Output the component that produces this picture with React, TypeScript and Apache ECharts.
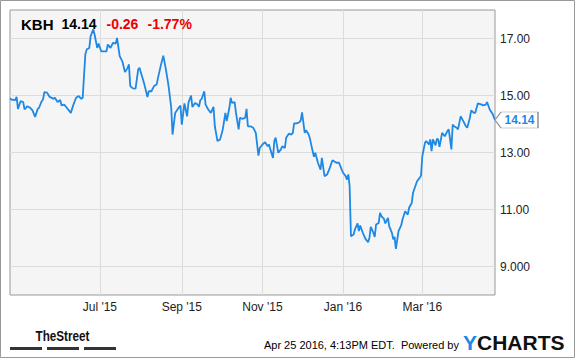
import React, { useEffect, useRef } from 'react';
import * as echarts from 'echarts';

const ticker = 'KBH';
const lastPriceText = '14.14';
const changeText = '-0.26';
const changePctText = '-1.77%';
const startDate = '2015-04-24';
const endDate = '2016-04-25';

const monthTicks = ['2015-07-01', '2015-09-01', '2015-11-01', '2016-01-01', '2016-03-01'];
const monthTickLabels = ["Jul '15", "Sep '15", "Nov '15", "Jan '16", "Mar '16"];

const yTicks = [9, 11, 13, 15, 17];
const yTickLabels = ['9.000', '11.00', '13.00', '15.00', '17.00'];

// day offsets from startDate of each reading
const dayOffsets = [
  0, 1, 4, 5, 6, 8, 10, 11, 13, 15, 17, 19, 21, 22, 24, 25, 26, 28, 30, 33,
  34, 36, 38, 39, 41, 43, 46, 48, 50, 52, 54, 55, 57, 58, 60, 61, 63, 64, 66, 67,
  69, 71, 73, 74, 76, 78, 80, 81, 83, 85, 87, 89, 90, 91, 93, 95, 97, 98, 101, 102,
  104, 105, 107, 109, 111, 112, 114, 116, 118, 120, 122, 123, 125, 127, 129, 130, 132, 134, 135, 137,
  138, 140, 142, 143, 144, 145, 147, 148, 150, 152, 154, 155, 157, 159, 161, 163, 164, 166, 167, 168,
  170, 171, 173, 174, 176, 178, 179, 180, 182, 184, 186, 188, 189, 191, 193, 195, 196, 197, 199, 200,
  201, 203, 205, 206, 208, 209, 211, 213, 214, 215, 217, 219, 220, 221, 223, 224, 226, 227, 229, 230,
  231, 233, 235, 236, 238, 240, 242, 244, 247, 249, 251, 252, 254, 255, 256, 257, 258, 260, 261, 263,
  264, 265, 267, 269, 271, 272, 273, 275, 276, 277, 279, 280, 281, 283, 284, 286, 287, 289, 290, 291,
  292, 294, 296, 297, 299, 301, 302, 304, 305, 308, 310, 311, 312, 314, 315, 317, 318, 319, 320, 322,
  323, 324, 325, 327, 329, 331, 332, 334, 335, 336, 338, 339, 341, 343, 345, 346, 348, 349, 351, 352,
  354, 357, 358, 360, 361, 363, 365, 367,
];

const prices = [
  14.90, 14.86, 14.84, 14.95, 14.53, 14.80, 14.77, 14.51, 14.62, 14.58, 14.48, 14.25, 14.53, 14.57, 14.80, 14.86, 15.12, 15.10, 14.95, 14.88,
  14.92, 14.77, 14.84, 14.65, 14.68, 14.57, 14.39, 14.68, 14.92, 14.98, 14.88, 14.92, 16.44, 16.61, 16.67, 17.08, 17.32, 17.14, 16.67, 16.82,
  16.55, 16.55, 16.55, 16.79, 16.67, 16.85, 16.82, 17.02, 16.38, 16.20, 15.82, 15.97, 16.09, 15.33, 15.25, 15.24, 15.91, 15.97, 15.50, 15.33,
  14.95, 15.15, 15.15, 15.33, 15.39, 15.62, 16.03, 16.40, 15.91, 15.33, 14.57, 13.63, 14.39, 14.53, 14.65, 13.98, 14.72, 14.27, 14.74, 15.00,
  14.60, 14.74, 14.68, 14.60, 14.84, 14.88, 15.15, 14.68, 14.51, 14.39, 14.60, 13.92, 13.40, 13.46, 13.81, 14.39, 14.10, 14.57, 14.92, 14.74,
  14.77, 14.39, 13.81, 14.22, 14.18, 14.22, 14.53, 13.92, 13.92, 13.87, 13.69, 12.89, 13.16, 13.28, 13.36, 13.22, 13.28, 13.11, 12.81, 13.40,
  13.52, 12.99, 13.11, 13.22, 13.16, 13.52, 13.66, 13.63, 13.69, 14.02, 14.02, 14.06, 14.13, 14.41, 13.69, 13.78, 13.63, 13.48, 13.05, 12.85,
  12.99, 12.64, 12.40, 12.81, 12.17, 12.23, 12.46, 12.73, 12.64, 12.64, 12.40, 12.29, 12.17, 12.05, 12.23, 11.82, 10.06, 10.12, 10.30, 10.51,
  10.24, 10.44, 10.18, 9.97, 9.85, 10.01, 10.39, 10.18, 10.04, 10.47, 10.53, 10.88, 10.77, 10.67, 10.51, 10.71, 10.41, 10.18, 9.95, 10.04,
  9.62, 10.24, 10.44, 10.65, 10.94, 10.82, 11.06, 11.23, 11.59, 11.99, 12.11, 12.19, 12.87, 13.34, 13.40, 13.28, 13.46, 13.05, 13.46, 13.25,
  13.48, 13.46, 13.20, 13.69, 13.57, 13.75, 13.81, 13.11, 13.98, 13.92, 13.87, 13.81, 14.27, 14.10, 13.92, 13.87, 14.22, 14.48, 14.39, 14.39,
  14.72, 14.68, 14.65, 14.68, 14.77, 14.51, 14.37, 14.14,
];

const footerText = 'Apr 25 2016, 4:13PM EDT.  Powered by';

const LINE = '#1e88e5';
const FONT = '"Liberation Sans", Arial, sans-serif';

function buildDays(): string[] {
  const out: string[] = [];
  const s = new Date(startDate + 'T00:00:00Z').getTime();
  const e = new Date(endDate + 'T00:00:00Z').getTime();
  for (let t = s; t <= e; t += 86400000) out.push(new Date(t).toISOString().slice(0, 10));
  return out;
}

export default function App() {
  const ref = useRef<HTMLDivElement>(null);
  useEffect(() => {
    if (!ref.current) return;
    const chart = echarts.init(ref.current, null, { renderer: 'svg' });
    const days = buildDays();
    const yMin = 8;
    const yMax = 18;
    const splitColors: string[] = [];
    for (let v = yMin; v <= yMax; v++) splitColors.push(yTicks.includes(v) ? '#dcdcdc' : 'rgba(0,0,0,0)');
    const isTick = (_i: number, val: string) => monthTicks.includes(val);
    const seriesData = dayOffsets.map((d, i) => [d, prices[i]]);
    const lastIdx = dayOffsets[dayOffsets.length - 1];
    const lastVal = prices[prices.length - 1];

    chart.setOption({
      animation: false,
      backgroundColor: '#ffffff',
      grid: {
        left: 10, right: 80, top: 10, bottom: 63,
        show: true, backgroundColor: '#f5f5f5', borderColor: '#999', borderWidth: 1,
      },
      xAxis: {
        type: 'category',
        data: days,
        boundaryGap: false,
        axisLine: { show: false },
        axisTick: { show: false },
        axisLabel: {
          interval: isTick,
          formatter: (v: string) => {
            const k = monthTicks.indexOf(v);
            return k >= 0 ? monthTickLabels[k] : '';
          },
          color: '#222', fontSize: 12, fontFamily: FONT, margin: 6,
        },
        splitLine: { show: true, interval: isTick, lineStyle: { color: '#dcdcdc', width: 1 } },
      },
      yAxis: {
        type: 'value',
        position: 'right',
        min: yMin, max: yMax, interval: 1,
        axisLine: { show: false },
        axisTick: { show: false },
        axisLabel: {
          formatter: (v: number) => {
            const k = yTicks.indexOf(v);
            return k >= 0 ? yTickLabels[k] : '';
          },
          color: '#222', fontSize: 12, fontFamily: FONT, margin: 5,
        },
        splitLine: { show: true, lineStyle: { color: splitColors, width: 1 } },
      },
      series: [
        {
          type: 'line',
          data: seriesData,
          showSymbol: false,
          symbol: 'none',
          z: 3,
          lineStyle: { color: LINE, width: 1.8 },
          markPoint: {
            silent: true,
            symbol: 'path://M0,8L6,0L43,0L43,16L6,16Z',
            symbolSize: [43, 16],
            symbolOffset: [21.5, 0],
            itemStyle: { color: '#ffffff', borderColor: '#9a9a9a', borderWidth: 1 },
            label: {
              show: true, position: 'inside', offset: [3, 0],
              formatter: () => lastVal.toFixed(2),
              color: LINE, fontWeight: 'bold', fontSize: 12, fontFamily: FONT,
            },
            data: [{ coord: [lastIdx, lastVal], value: lastVal }],
          },
        },
      ],
      graphic: [
        { type: 'rect', z: 200, shape: { x: 0.5, y: 0.5, width: 574, height: 357 }, style: { fill: 'none', stroke: '#999', lineWidth: 1 } },
        { type: 'text', z: 100, x: 21, y: 24, style: { text: ticker, fontSize: 15, fontWeight: 'bold', fontFamily: FONT, fill: '#000', verticalAlign: 'middle' } },
        { type: 'text', z: 100, x: 61.5, y: 24, style: { text: lastPriceText, fontSize: 14, fontWeight: 'bold', fontFamily: FONT, fill: '#000', verticalAlign: 'middle' } },
        { type: 'text', z: 100, x: 106.5, y: 24, style: { text: changeText, fontSize: 14, fontWeight: 'bold', fontFamily: FONT, fill: '#ee0000', verticalAlign: 'middle' } },
        { type: 'text', z: 100, x: 147.5, y: 24, style: { text: changePctText, fontSize: 14, fontWeight: 'bold', fontFamily: FONT, fill: '#ee0000', verticalAlign: 'middle' } },
        { type: 'text', z: 100, x: 35.5, y: 336, scaleX: 0.78, style: { text: 'TheStreet', fontSize: 15, fontWeight: 'bold', fontFamily: FONT, fill: '#111', verticalAlign: 'middle' } },
        { type: 'rect', z: 100, shape: { x: 10, y: 347, width: 32, height: 3 }, style: { fill: '#333' } },
        { type: 'rect', z: 100, shape: { x: 47, y: 347, width: 32, height: 3 }, style: { fill: '#333' } },
        { type: 'rect', z: 100, shape: { x: 84, y: 347, width: 32, height: 3 }, style: { fill: '#333' } },
        { type: 'text', z: 100, x: 459, y: 345, style: { text: footerText, fontSize: 11, fontFamily: FONT, fill: '#000', align: 'right', verticalAlign: 'middle' } },
        {
          type: 'text', z: 100, x: 463, y: 342,
          style: {
            text: '{y|Y}{c|CHARTS}', fontSize: 21, fontWeight: 'bold', fontFamily: FONT, verticalAlign: 'middle',
            rich: {
              y: { fontSize: 21, fontWeight: 'bold', fontFamily: FONT, fill: '#1a8ae6' },
              c: { fontSize: 21, fontWeight: 'bold', fontFamily: FONT, fill: '#111' },
            },
          },
        },
      ],
    });
    return () => chart.dispose();
  }, []);
  return (
    <div
      ref={ref}
      style={{ position: 'absolute', left: 0, top: 0, width: 575, height: 358, background: '#fff' }}
    />
  );
}
